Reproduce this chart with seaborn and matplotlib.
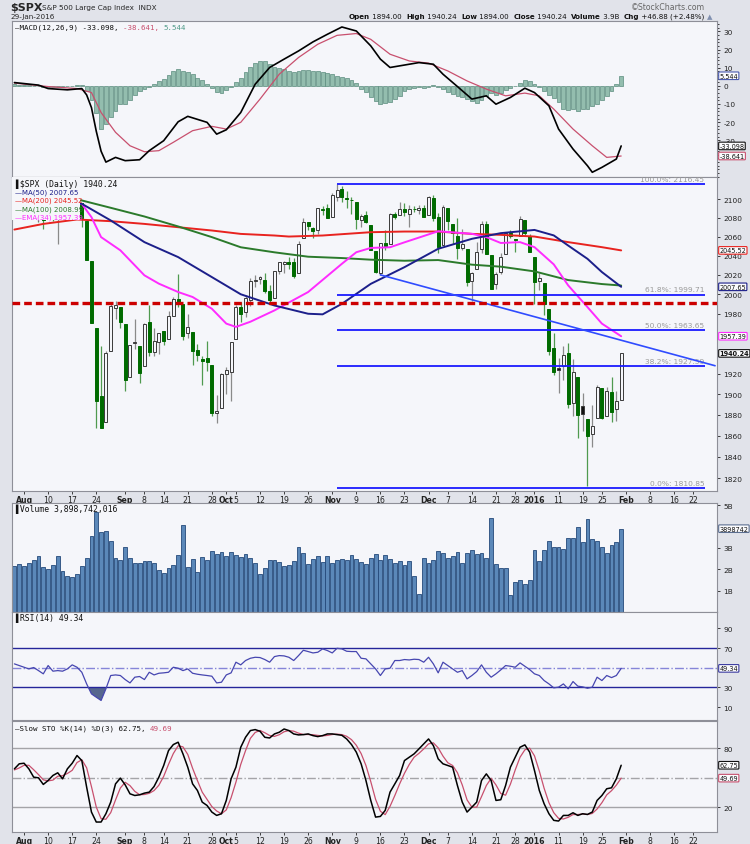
import numpy as np
import pandas as pd
import matplotlib
matplotlib.use("Agg")
import matplotlib.pyplot as plt
from matplotlib.patches import Rectangle
from matplotlib.ticker import MultipleLocator, NullLocator
import seaborn as sns

# ---- trading calendar (session 0 = 3 Aug 2015) ----
holidays = ["2015-09-07", "2015-11-26", "2015-12-25", "2016-01-01", "2016-01-18", "2016-02-15"]
sessions = pd.bdate_range("2015-07-30", "2016-02-26")
sessions = sessions[~sessions.isin(pd.to_datetime(holidays))]
sess_no = pd.Series(np.arange(len(sessions)) - 2, index=sessions)

# ---- $SPX daily candles, 30 Jul 2015 .. 29 Jan 2016 ----
opens = [2111.6, 2111.6, 2104.5, 2097.7, 2095.3, 2100.8, 2082.6, 2081.0, 2102.7, 2081.1,
         2086.2, 2083.2, 2089.7, 2102.0, 2095.7, 2076.6, 2034.1, 1965.2, 1898.1, 1872.8,
         1942.8, 1986.1, 1986.7, 1970.1, 1916.5, 1950.8, 1947.8, 1927.3, 1971.5, 1941.6,
         1951.5, 1963.1, 1955.1, 1978.0, 1995.3, 1989.7, 1960.8, 1961.4, 1943.2, 1934.8,
         1935.9, 1929.2, 1881.9, 1887.1, 1919.7, 1921.8, 1954.3, 1986.6, 1982.3, 1994.0,
         2013.7, 2015.7, 2015.0, 2003.7, 1996.5, 2024.4, 2031.7, 2033.1, 2033.5, 2021.9,
         2058.2, 2075.1, 2068.8, 2066.5, 2088.4, 2090.0, 2080.8, 2102.6, 2110.6, 2101.7,
         2098.6, 2096.6, 2077.2, 2083.4, 2072.3, 2044.6, 2022.1, 2053.7, 2052.0, 2083.7,
         2082.8, 2089.4, 2084.4, 2089.3, 2088.8, 2091.0, 2082.9, 2101.7, 2080.7, 2051.2,
         2090.4, 2073.4, 2061.2, 2047.9, 2047.3, 2013.4, 2025.6, 2046.5, 2073.8, 2040.8,
         2010.3, 2023.2, 2042.2, 2063.5, 2057.8, 2060.5, 2077.3, 2060.6, 2038.2, 2013.8,
         2011.7, 1985.3, 1946.0, 1926.1, 1927.8, 1940.3, 1891.7, 1916.7, 1888.7, 1876.2,
         1861.5, 1877.4, 1906.3, 1878.8, 1902.5, 1885.2, 1894.0]
highs = [2114.2, 2114.2, 2105.7, 2102.5, 2112.7, 2103.3, 2082.6, 2105.4, 2102.7, 2089.1,
         2092.9, 2092.5, 2102.9, 2103.5, 2096.2, 2076.6, 2034.1, 1965.2, 1948.0, 1943.1,
         1989.6, 1993.5, 1986.7, 1970.1, 1948.9, 1975.0, 1947.8, 1970.4, 1988.6, 1965.3,
         1961.1, 1963.1, 1983.2, 1997.3, 2020.9, 1989.7, 1979.6, 1961.4, 1949.5, 1937.2,
         1952.9, 1929.2, 1899.5, 1920.5, 1927.2, 1951.4, 1989.2, 1991.6, 1999.3, 2016.5,
         2020.1, 2018.7, 2022.3, 2009.6, 2024.2, 2033.5, 2034.5, 2039.1, 2038.0, 2055.2,
         2079.7, 2075.1, 2070.4, 2090.4, 2092.5, 2094.3, 2106.2, 2116.5, 2114.6, 2108.8,
         2101.9, 2096.6, 2083.7, 2086.9, 2072.3, 2044.6, 2053.2, 2066.7, 2085.3, 2086.7,
         2097.1, 2095.6, 2094.1, 2093.0, 2093.3, 2093.8, 2103.4, 2104.3, 2085.0, 2093.8,
         2090.4, 2073.9, 2080.3, 2067.7, 2047.3, 2022.9, 2053.9, 2076.7, 2076.4, 2040.8,
         2022.9, 2042.7, 2064.7, 2067.4, 2057.8, 2081.6, 2077.3, 2062.5, 2038.2, 2021.9,
         2011.7, 1985.3, 1960.4, 1935.7, 1947.4, 1950.3, 1934.5, 1916.7, 1901.4, 1876.2,
         1889.9, 1908.9, 1906.3, 1906.7, 1916.8, 1903.0, 1940.2]
lows = [2094.1, 2102.1, 2087.3, 2088.6, 2095.3, 2075.5, 2067.9, 2081.0, 2076.5, 2052.1,
        2078.3, 2080.6, 2079.3, 2094.1, 2070.5, 2035.7, 1970.9, 1867.0, 1867.1, 1872.8,
        1942.8, 1975.2, 1966.0, 1903.1, 1916.5, 1944.7, 1911.2, 1927.3, 1937.9, 1937.2,
        1939.2, 1948.3, 1954.3, 1977.9, 1986.7, 1953.5, 1955.8, 1929.2, 1932.6, 1908.9,
        1922.8, 1879.2, 1871.9, 1887.1, 1900.7, 1893.7, 1954.3, 1972.0, 1976.4, 1987.5,
        2007.6, 2010.6, 2001.8, 1990.7, 1996.5, 2020.5, 2022.3, 2026.6, 2017.2, 2021.9,
        2058.2, 2066.5, 2058.8, 2063.1, 2082.6, 2079.3, 2080.8, 2097.5, 2097.0, 2090.4,
        2083.7, 2068.2, 2069.9, 2074.9, 2045.7, 2022.0, 2019.4, 2045.9, 2052.0, 2078.8,
        2082.8, 2081.4, 2070.3, 2086.3, 2084.1, 2080.4, 2082.9, 2077.1, 2042.4, 2051.2,
        2066.8, 2052.3, 2036.5, 2045.7, 2008.8, 1993.3, 2025.6, 2042.4, 2041.7, 2005.3,
        2005.9, 2020.5, 2042.2, 2058.7, 2044.2, 2060.5, 2062.0, 2043.6, 1989.7, 2004.2,
        1979.1, 1938.8, 1918.5, 1901.1, 1914.4, 1886.3, 1878.9, 1857.8, 1864.6, 1812.3,
        1849.0, 1877.4, 1876.0, 1878.8, 1872.7, 1873.7, 1894.0]
closes = [2108.6, 2103.8, 2098.0, 2093.3, 2099.8, 2083.6, 2077.6, 2104.2, 2084.1, 2086.1,
          2083.4, 2091.5, 2102.4, 2096.9, 2079.6, 2035.7, 1970.9, 1893.2, 1867.6, 1940.5,
          1987.7, 1988.9, 1972.2, 1913.9, 1948.9, 1951.1, 1921.2, 1969.4, 1942.0, 1952.3,
          1961.1, 1953.0, 1978.1, 1995.3, 1990.2, 1958.0, 1967.0, 1942.7, 1938.8, 1932.2,
          1931.3, 1881.8, 1884.1, 1920.0, 1923.8, 1951.4, 1987.1, 1979.9, 1995.8, 2013.4,
          2014.9, 2017.5, 2003.7, 1994.2, 2023.9, 2033.1, 2033.7, 2030.8, 2018.9, 2052.5,
          2075.2, 2071.2, 2065.9, 2090.4, 2089.4, 2079.4, 2104.1, 2109.8, 2102.3, 2099.9,
          2099.2, 2078.6, 2081.7, 2075.0, 2046.0, 2023.0, 2053.2, 2050.4, 2083.6, 2081.2,
          2089.2, 2086.6, 2089.1, 2088.9, 2090.1, 2080.4, 2102.6, 2079.5, 2049.6, 2091.7,
          2077.1, 2063.6, 2047.6, 2052.2, 2012.4, 2021.9, 2043.4, 2073.1, 2041.9, 2005.6,
          2021.2, 2039.0, 2064.3, 2061.0, 2056.5, 2078.4, 2063.4, 2043.9, 2012.7, 2016.7,
          1990.3, 1943.1, 1922.0, 1923.7, 1938.7, 1890.3, 1921.8, 1880.3, 1881.3, 1859.3,
          1869.0, 1906.9, 1877.1, 1903.6, 1883.0, 1893.4, 1940.24]

# volume, billions of shares
volume = [2.14, 2.23, 2.14, 2.27, 2.42, 2.61, 2.11, 2.02, 2.22, 2.64,
          1.92, 1.70, 1.64, 1.80, 2.17, 2.55, 3.55, 4.69, 3.75, 3.80,
          3.33, 2.55, 2.44, 3.02, 2.53, 2.27, 2.27, 2.38, 2.38, 2.30,
          1.98, 1.83, 2.08, 2.22, 2.69, 4.09, 2.11, 2.48, 1.89, 2.56,
          2.42, 2.86, 2.70, 2.83, 2.61, 2.83, 2.67, 2.58, 2.72, 2.52,
          2.31, 1.80, 2.08, 2.44, 2.44, 2.34, 2.14, 2.22, 2.39, 3.02,
          2.77, 2.23, 2.50, 2.64, 2.33, 2.64, 2.31, 2.45, 2.47, 2.45,
          2.66, 2.47, 2.36, 2.23, 2.53, 2.70, 2.45, 2.69, 2.50, 2.27,
          2.39, 2.19, 2.38, 1.67, 0.86, 2.52, 2.27, 2.42, 2.86, 2.77,
          2.52, 2.64, 2.81, 2.27, 2.78, 2.92, 2.73, 2.78, 2.55, 4.41,
          2.23, 2.05, 2.05, 0.78, 1.41, 1.52, 1.33, 1.52, 2.92, 2.39,
          2.92, 3.33, 3.02, 3.05, 2.97, 3.48, 3.48, 3.98, 3.28, 4.33,
          3.42, 3.31, 3.02, 2.78, 3.13, 3.28, 3.90]

# overlays, read at selected sessions
ma50_sess = [-2, 12, 18, 25, 32, 39, 45, 52, 59, 62, 66, 72, 79, 86, 93, 99, 106, 110, 113, 117, 120, 124]
ma50_val = [2099.0, 2095.0, 2077.2, 2054.2, 2038.5, 2017.7, 2000.0, 1988.5, 1980.1, 1979.5, 1990.2,
            2010.7, 2028.0, 2047.2, 2057.7, 2063.7, 2067.1, 2061.3, 2050.6, 2036.7, 2022.9, 2007.65]
ma100_sess = [-2, 12, 18, 25, 32, 39, 45, 52, 59, 66, 72, 79, 86, 93, 99, 106, 113, 120, 124]
ma100_val = [2100.0, 2098.6, 2090.7, 2081.4, 2070.8, 2059.5, 2048.8, 2043.5, 2038.9, 2037.5,
             2035.8, 2034.7, 2035.4, 2030.6, 2028.5, 2023.6, 2014.6, 2010.5, 2008.99]
ma200_sess = [-2, 4, 11, 18, 25, 32, 39, 45, 52, 55, 62, 72, 79, 86, 93, 99, 106, 113, 120, 124]
ma200_val = [2067.5, 2073.5, 2078.2, 2076.4, 2073.5, 2070.0, 2066.5, 2062.9, 2061.2, 2060.1,
             2061.2, 2064.7, 2065.4, 2065.4, 2062.9, 2061.9, 2060.1, 2054.2, 2048.9, 2045.52]
ema34_sess = [-2, 12, 14, 16, 20, 25, 28, 32, 35, 39, 42, 44, 47, 52, 59, 66, 69, 72, 76, 79,
              86, 93, 96, 99, 103, 106, 110, 113, 117, 120, 124]
ema34_val = [2097.0, 2094.9, 2080.7, 2059.5, 2045.6, 2019.5, 2010.9, 2002.3, 1997.2, 1985.2,
             1970.1, 1966.8, 1972.0, 1983.5, 2002.3, 2031.5, 2043.6, 2048.1, 2048.8, 2054.0,
             2065.7, 2063.0, 2059.5, 2053.3, 2054.2, 2048.9, 2030.9, 2009.1, 1986.9, 1970.1, 1957.39]

fib_pct = ["100.0%", "61.8%", "50.0%", "38.2%", "0.0%"]
fib_lvl = [2116.45, 1999.71, 1963.65, 1927.59, 1810.85]
support_lvl = 1991.2
trend_sess = [74, 143.5]
trend_val = [2020.0, 1928.0]

# MACD(12,26,9)
macd_sess = [-2, 3, 5, 9, 12, 13, 14, 15, 16, 17, 19, 21, 24, 26, 29, 32, 34, 38, 40, 42, 45, 48,
             51, 54, 57, 60, 63, 66, 69, 72, 74, 76, 80, 82, 85, 87, 90, 93, 96, 98, 101, 104,
             106, 109, 111, 114, 117, 118, 120, 123, 124]
macd_val = [1.8, 0.4, -1.5, -2.2, -1.5, -5.0, -12.0, -25.0, -36.0, -42.0, -39.4, -41.2, -40.7,
            -35.7, -30.2, -19.8, -16.8, -20.1, -26.6, -24.2, -14.7, 0.9, 10.1, 14.7, 19.2, 24.2,
            28.4, 32.4, 30.2, 22.0, 14.7, 10.1, 11.9, 12.8, 11.9, 6.4, -0.4, -7.3, -5.5, -10.1,
            -6.4, -1.3, -3.7, -11.0, -23.8, -34.8, -44.0, -47.6, -44.9, -40.3, -33.098]
signal_sess = [-2, 5, 11, 14, 16, 19, 22, 25, 28, 31, 35, 39, 42, 45, 49, 53, 57, 61, 65, 69, 72,
               76, 80, 84, 88, 92, 96, 100, 104, 107, 110, 114, 118, 121, 124]
signal_val = [1.5, -0.4, -1.5, -3.7, -14.7, -25.6, -33.0, -36.3, -35.7, -31.1, -24.7, -22.3,
              -23.8, -20.1, -7.3, 6.4, 15.6, 22.9, 27.8, 28.8, 25.6, 17.4, 13.7, 12.5, 8.2, 2.7,
              -1.8, -5.5, -4.0, -5.5, -12.8, -23.8, -33.0, -39.4, -38.641]
macd_hist = [0.8, 0.6, 0.4, 0.3, 0.1, -0.3, -0.6, -0.8, -0.9, -0.7,
             -0.5, -0.3, -0.2, 0.3, 0.5, -3.0, -8.0, -15.0, -24.0, -21.0,
             -17.0, -14.0, -10.0, -10.0, -8.0, -5.0, -3.0, -1.5, -0.5, 1.0,
             2.5, 4.0, 6.0, 8.0, 9.5, 8.0, 7.5, 6.5, 4.5, 3.0,
             1.0, -1.0, -3.5, -4.0, -2.5, -0.5, 2.0, 4.5, 7.5, 10.5,
             12.5, 13.5, 13.5, 12.0, 10.5, 10.0, 9.0, 8.0, 7.5, 8.0,
             8.5, 8.5, 8.0, 8.0, 7.5, 7.0, 6.5, 5.5, 5.0, 4.5,
             3.0, 1.5, -1.5, -3.5, -6.0, -8.5, -10.0, -9.5, -9.0, -7.5,
             -5.5, -3.0, -2.0, -1.0, -0.5, -1.0, -0.5, 0.3, -0.5, -2.0,
             -3.5, -4.5, -5.5, -6.0, -7.0, -8.5, -9.5, -8.0, -5.5, -4.0,
             -5.0, -4.0, -2.5, -1.0, 0.0, 1.5, 3.0, 2.5, 1.0, -0.5,
             -3.0, -5.0, -6.5, -9.0, -12.5, -13.5, -12.5, -14.0, -13.0, -13.0,
             -11.0, -10.0, -8.0, -5.5, -3.0, 0.8, 5.544]

rsi14 = [53.9, 52.2, 50.5, 48.8, 50.2, 47.1, 43.8, 52.2, 46.5, 47.1,
         46.5, 48.8, 52.9, 50.5, 45.4, 33.6, 23.5, 20.1, 16.8, 28.6,
         42.1, 42.7, 42.1, 38.0, 34.6, 40.4, 41.1, 38.0, 45.4, 42.7,
         44.4, 44.8, 45.4, 50.5, 49.5, 47.1, 48.8, 44.4, 43.4, 42.7,
         42.1, 41.4, 34.6, 35.3, 42.7, 44.8, 55.6, 52.9, 57.3, 59.6,
         60.6, 60.3, 58.3, 55.6, 61.3, 62.3, 62.0, 60.6, 57.3, 62.3,
         67.7, 66.4, 65.0, 65.7, 69.1, 67.4, 65.0, 69.7, 69.1, 66.7,
         66.4, 66.4, 59.6, 59.0, 53.9, 48.8, 42.1, 48.8, 49.5, 57.3,
         57.3, 58.3, 57.9, 58.6, 58.3, 55.6, 60.6, 53.9, 44.8,
         55.6, 52.2, 48.8, 45.4, 47.1, 38.7, 42.1, 46.1, 52.9, 45.4,
         40.4, 43.8, 47.8, 52.2, 51.5, 50.5, 54.9, 51.5, 48.1, 43.8,
         42.1, 37.0, 33.6, 29.6, 30.3, 33.6, 28.6, 36.0, 31.3, 30.6,
         29.2, 30.3, 40.4, 37.0, 42.1, 40.0, 42.1, 49.34]

sto_k = [59.1, 64.2, 64.8, 59.1, 50.7, 50.0, 43.3, 47.3, 52.4, 55.1,
         49.0, 59.1, 64.8, 72.6, 67.5, 40.6, 15.3, 5.2, 5.2, 13.6,
         25.4, 43.9, 49.7, 42.9, 33.8, 32.1, 32.8, 34.5, 35.5, 41.2,
         50.7, 62.5, 77.6, 83.7, 86.1, 74.3, 60.8, 43.9, 37.2, 25.4,
         22.0, 15.3, 11.9, 13.6, 27.1, 49.0, 60.8, 81.0, 91.1, 97.9,
         98.9, 97.2, 91.1, 90.4, 94.5, 96.2, 99.5, 97.9, 94.5, 93.5,
         93.8, 94.5, 92.8, 91.8, 92.8, 94.5, 94.5, 93.8, 93.1, 89.4,
         83.7, 76.0, 64.2, 47.3, 27.1, 10.2, 10.9, 17.0, 35.5, 43.9,
         52.4, 67.5, 70.9, 74.3, 79.3, 84.4, 89.4, 82.7, 69.2, 64.2,
         62.5, 60.8, 42.2, 25.4, 15.3, 20.3, 25.4, 47.3, 54.0, 47.3,
         27.1, 27.8, 42.2, 60.8, 70.9, 81.0, 83.4, 76.0, 57.4, 37.2,
         23.7, 13.6, 6.9, 6.2, 11.9, 11.9, 14.6, 11.9, 13.6, 12.9,
         15.3, 27.1, 32.1, 38.9, 39.9, 49.0, 62.75]
sto_d = [58.0, 60.0, 62.7, 62.7, 58.2, 53.3, 48.0, 46.9, 47.7, 51.6,
         52.2, 54.4, 57.6, 65.5, 68.3, 60.2, 41.1, 20.4, 8.6, 8.0,
         14.7, 27.6, 39.7, 45.5, 42.1, 36.3, 32.9, 33.1, 34.3, 37.1,
         42.5, 51.5, 63.6, 74.6, 82.5, 81.4, 73.7, 59.7, 47.3, 35.5,
         28.2, 20.9, 16.4, 13.6, 17.5, 29.9, 45.6, 63.6, 77.6, 90.0,
         96.0, 98.0, 95.7, 92.9, 92.0, 93.7, 96.7, 97.9, 97.3, 95.3,
         93.9, 93.9, 93.7, 93.0, 92.5, 93.0, 93.9, 94.3, 93.8, 92.1,
         88.7, 83.0, 74.6, 62.5, 46.2, 28.2, 16.1, 12.7, 21.1, 32.1,
         43.9, 54.6, 63.6, 70.9, 74.8, 79.3, 84.4, 85.5, 80.4, 72.0,
         65.3, 62.5, 55.2, 42.8, 27.6, 20.3, 20.3, 31.0, 42.2, 49.5,
         42.8, 34.1, 32.4, 43.6, 58.0, 70.9, 78.4, 80.1, 72.3, 56.9,
         39.4, 24.8, 14.7, 8.9, 8.3, 10.0, 12.8, 12.8, 13.4, 12.8,
         13.9, 18.4, 24.8, 32.7, 37.0, 42.6, 49.69]

tick_dates = ["2015-08-03", "2015-08-10", "2015-08-17", "2015-08-24", "2015-09-01", "2015-09-08",
              "2015-09-14", "2015-09-21", "2015-09-28", "2015-10-01", "2015-10-05", "2015-10-12",
              "2015-10-19", "2015-10-26", "2015-11-02", "2015-11-09", "2015-11-16", "2015-11-23",
              "2015-12-01", "2015-12-07", "2015-12-14", "2015-12-21", "2015-12-28", "2016-01-04",
              "2016-01-11", "2016-01-19", "2016-01-25", "2016-02-01", "2016-02-08", "2016-02-16",
              "2016-02-22"]
tick_text = ["Aug", "10", "17", "24", "Sep", "8", "14", "21", "28", "Oct", "5", "12", "19", "26",
             "Nov", "9", "16", "23", "Dec", "7", "14", "21", "28", "2016", "11", "19", "25",
             "Feb", "8", "16", "22"]
price_ticks = [1820, 1840, 1860, 1880, 1900, 1920, 1980, 2000, 2020, 2040, 2060, 2080, 2100]

n = len(closes)
assert all(len(a) == n for a in [opens, highs, lows, volume, macd_hist, rsi14, sto_k, sto_d])
day = sess_no.values[:n]

# ---- styling ----
sns.set_theme(style="white")
plt.rcParams["font.family"] = ["DejaVu Sans"]
plt.rcParams["axes.unicode_minus"] = False

W, H = 750, 845
PANEL = "#f5f6fa"
FIGBG = "#e1e3ea"
GREEN = "#006b00"
TICK = 5.3

fig = plt.figure(figsize=(W / 100, H / 100), dpi=100, facecolor=FIGBG)
bg = fig.add_axes([0, 0, 1, 1], zorder=-1)
bg.axis("off")


def panel(top, bottom):
    ax = fig.add_axes([12 / W, 1 - bottom / H, 705 / W, (bottom - top) / H])
    ax.set_facecolor(PANEL)
    for s in ax.spines.values():
        s.set_color("#8e8f98")
        s.set_linewidth(0.8)
    ax.yaxis.tick_right()
    ax.tick_params(axis="y", which="both", right=True, left=False, labelsize=TICK,
                   length=2.5, pad=2, colors="#222222", width=0.6)
    ax.tick_params(axis="y", which="minor", length=1.5)
    ax.tick_params(axis="x", bottom=False, labelbottom=False)
    return ax


def tag(ax, y, text, ec, bold=False):
    ax.text(1.0035, y, text, transform=ax.get_yaxis_transform(), ha="left", va="center",
            fontsize=4.7, fontweight="bold" if bold else "normal", color="#111111",
            bbox=dict(boxstyle="round,pad=0.12", fc="#fbfbfd", ec=ec, lw=0.8),
            clip_on=False, zorder=10)


def chain(ax, x, y, parts, size, family="DejaVu Sans", transform=None):
    text, color, weight = parts[0]
    t = ax.text(x, y, text, transform=transform or ax.transAxes, fontsize=size, color=color,
                fontweight=weight, family=family, va="center", ha="left", zorder=8)
    for text, color, weight in parts[1:]:
        t = ax.annotate(text, xy=(1, 0), xycoords=t, va="bottom", ha="left", fontsize=size,
                        color=color, fontweight=weight, family=family, zorder=8,
                        annotation_clip=False)
    return t


# ---- header ----
bg.text(10 / W, 1 - 8 / H, "$SPX", fontsize=8, fontweight="bold", va="center")
bg.text(42 / W, 1 - 8 / H, "S&P 500 Large Cap Index  INDX", fontsize=5.2, va="center")
bg.text(10 / W, 1 - 17 / H, "29-Jan-2016", fontsize=5.2, va="center")
bg.text(705 / W, 1 - 8 / H, "\u00a9StockCharts.com", fontsize=5.6, color="#666666",
        ha="right", va="center")
chain(bg, 349 / W, 1 - 17 / H,
      [("Open", "#111", "bold"), (" 1894.00  ", "#111", "normal"),
       ("High", "#111", "bold"), (" 1940.24  ", "#111", "normal"),
       ("Low", "#111", "bold"), (" 1894.00  ", "#111", "normal"),
       ("Close", "#111", "bold"), (" 1940.24  ", "#111", "normal"),
       ("Volume", "#111", "bold"), (" 3.9B  ", "#111", "normal"),
       ("Chg", "#111", "bold"), (" +46.88 (+2.48%) ", "#111", "normal"),
       ("\u25b2", "#8090b0", "normal")], 5.1)

# ---- MACD panel ----
ax_m = panel(22, 178)
ax_m.bar(day, macd_hist, width=0.8, color="#93bdae", edgecolor="#5b8c7d", lw=0.5, zorder=1)
sns.lineplot(x=signal_sess, y=signal_val, ax=ax_m, color="#c8506e", lw=0.9, zorder=2)
sns.lineplot(x=macd_sess, y=macd_val, ax=ax_m, color="black", lw=1.2, zorder=3)
ax_m.set_ylim(-50.2, 35.7)
ax_m.set_yticks([-30, -20, -10, 0, 10, 20, 30])
ax_m.yaxis.set_minor_locator(MultipleLocator(2))
chain(ax_m, 0.004, 0.965,
      [("\u2014MACD(12,26,9) -33.098, ", "#111111", "normal"),
       ("-38.641, ", "#c8506e", "normal"), ("5.544", "#4f9a88", "normal")],
      5.4, family="DejaVu Sans Mono")
tag(ax_m, 5.544, "5.544", "#4a5ab0")
tag(ax_m, -33.098, "-33.098", "#111111")
tag(ax_m, -38.641, "-38.641", "#c8506e")

# ---- price panel ----
ax_p = panel(178, 492)
o, h, l, c = map(np.array, (opens, highs, lows, closes))
prev = np.r_[c[0], c[:-1]]
down = c < prev
filled = c < o
edge = np.where(down, GREEN, "#3a3a3a")
face = np.where(filled, np.where(down, GREEN, "#111111"), PANEL)
wick = np.where(down, "#4f9a4f", "#8a8a8a")
ax_p.vlines(day, l, h, colors=wick, lw=0.9, zorder=2)
body = np.maximum(np.abs(c - o), 0.8)
ax_p.bar(day, body, bottom=np.minimum(o, c), width=0.62, color=face, edgecolor=edge,
         lw=0.7, zorder=3)

sns.lineplot(x=ma200_sess, y=ma200_val, ax=ax_p, color="#e8231f", lw=1.4, zorder=4)
sns.lineplot(x=ma100_sess, y=ma100_val, ax=ax_p, color="#2b7a2b", lw=1.4, zorder=4)
sns.lineplot(x=ema34_sess, y=ema34_val, ax=ax_p, color="#ff2bff", lw=1.4, zorder=4)
sns.lineplot(x=ma50_sess, y=ma50_val, ax=ax_p, color="#1c1f8a", lw=1.4, zorder=4)

fib_from = sess_no[pd.Timestamp("2015-11-03")]
fib_to = sess_no[pd.Timestamp("2016-02-24")] + 0.5
ax_p.hlines(fib_lvl, fib_from, fib_to, colors="#1a1aff", lw=1.3, zorder=5)
for pct, lvl in zip(fib_pct, fib_lvl):
    ax_p.text(fib_to - 0.2, lvl * 1.0012, f"{pct}: {lvl:.2f}", ha="right", va="bottom",
              fontsize=5.4, color="#9a9a9a", zorder=5, clip_on=True)
sns.lineplot(x=trend_sess, y=trend_val, ax=ax_p, color="#2f4cff", lw=1.2, zorder=5)
ax_p.axhline(support_lvl, color="#cc0000", lw=2.4, ls=(0, (2.3, 1.2)), zorder=6)

ax_p.set_yscale("log")
ax_p.set_ylim(1808, 2124)
ax_p.yaxis.set_minor_locator(NullLocator())
ax_p.set_yticks(price_ticks)
ax_p.set_yticklabels([str(v) for v in price_ticks])

ax_p.add_patch(Rectangle((0, 1 - 43 / 314), 68 / 705, 43 / 314, transform=ax_p.transAxes,
                         fc=PANEL, ec="none", zorder=7))
leg_y = [184, 192.7, 201, 209.3, 217.3]
ax_p.text(0.004, 1 - (leg_y[0] - 178) / 314, "\u258c$SPX (Daily) 1940.24", transform=ax_p.transAxes,
          fontsize=5.9, family="DejaVu Sans Mono", va="center", color="#111111", zorder=8)
for yy, txt, col in zip(leg_y[1:], ["MA(50) 2007.65", "MA(200) 2045.52", "MA(100) 2008.99",
                                    "EMA(34) 1957.39"],
                        ["#1c1f8a", "#e8231f", "#2b7a2b", "#ff2bff"]):
    ax_p.text(0.004, 1 - (yy - 178) / 314, "\u2014" + txt, transform=ax_p.transAxes,
              fontsize=5.0, va="center", color=col, zorder=8)
tag(ax_p, 2045.52, "2045.52", "#e8231f")
tag(ax_p, 2007.65, "2007.65", "#1c1f8a")
tag(ax_p, 1957.39, "1957.39", "#ff2bff")
tag(ax_p, 1940.24, "1940.24", "#111111", bold=True)

# ---- volume panel ----
ax_v = panel(504, 613)
ax_v.bar(day, volume, width=0.8, color="#5b88b9", edgecolor="#24497a", lw=0.6, zorder=2)
ax_v.set_ylim(0, 5.1)
ax_v.set_yticks([1, 2, 3, 5])
ax_v.set_yticklabels(["1B", "2B", "3B", "5B"])
ax_v.text(0.004, 0.955, "\u258cVolume 3,898,742,016", transform=ax_v.transAxes, fontsize=5.9,
          family="DejaVu Sans Mono", va="center", color="#111111")
tag(ax_v, 3.8987, "3898742", "#5b6e90")

# ---- RSI panel ----
ax_r = panel(613, 721)
rsi_arr = np.array(rsi14)
ax_r.fill_between(day, rsi_arr, 30, where=rsi_arr < 30, interpolate=True, color="#56668f",
                  lw=0, zorder=1)
ax_r.axhline(70, color="#25259a", lw=1.0, zorder=1)
ax_r.axhline(30, color="#25259a", lw=1.0, zorder=1)
ax_r.axhline(50, color="#8585d8", lw=1.0, ls="-.", zorder=1)
sns.lineplot(x=day, y=rsi_arr, ax=ax_r, color="#4646b0", lw=0.9, zorder=3)
ax_r.set_ylim(-3, 106.5)
ax_r.set_yticks([10, 30, 70, 90])
ax_r.text(0.004, 0.955, "\u258cRSI(14) 49.34", transform=ax_r.transAxes, fontsize=5.9,
          family="DejaVu Sans Mono", va="center", color="#111111")
tag(ax_r, 49.34, "49.34", "#3a3aa0")

# ---- slow stochastic panel ----
ax_s = panel(722, 833)
ax_s.axhline(80, color="#a4a4a8", lw=1.0, zorder=1)
ax_s.axhline(20, color="#a4a4a8", lw=1.0, zorder=1)
ax_s.axhline(50, color="#a4a4a8", lw=1.0, ls="-.", zorder=1)
sns.lineplot(x=day, y=sto_d, ax=ax_s, color="#c8506e", lw=0.9, zorder=2)
sns.lineplot(x=day, y=sto_k, ax=ax_s, color="black", lw=1.1, zorder=3)
ax_s.set_ylim(-4.9, 107.6)
ax_s.set_yticks([20, 80])
chain(ax_s, 0.004, 0.935,
      [("\u2014Slow STO %K(14) %D(3) 62.75, ", "#111111", "normal"), ("49.69", "#c8506e", "normal")],
      5.4, family="DejaVu Sans Mono")
tag(ax_s, 62.75, "62.75", "#111111")
tag(ax_s, 49.69, "49.69", "#c8506e")

# ---- shared x axis ----
tick_pos = [sess_no[pd.Timestamp(d)] for d in tick_dates]
for ax in (ax_m, ax_p, ax_v, ax_r, ax_s):
    ax.set_xlim(-2.5, 143.9)
    ax.set_xlabel("")
    ax.set_ylabel("")
for ax in (ax_p, ax_s):
    ax.set_xticks(tick_pos)
    ax.set_xticklabels(tick_text)
    ax.tick_params(axis="x", bottom=True, labelbottom=True, length=2, pad=1.2,
                   labelsize=5.6, colors="#222222", width=0.6)
    for lab, txt in zip(ax.get_xticklabels(), tick_text):
        if not txt.isdigit() or txt == "2016":
            lab.set_fontweight("bold")

fig.savefig("out.png", dpi=100, facecolor=FIGBG)
